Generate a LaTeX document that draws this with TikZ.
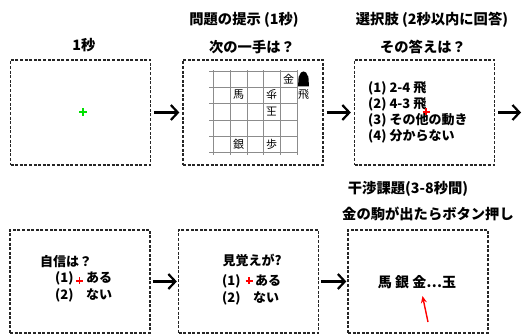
\documentclass[tikz,border=0pt]{standalone}
\usepackage{fontspec}
\setmainfont{Noto Sans CJK JP}
\usetikzlibrary{arrows.meta}
\definecolor{fixgreen}{RGB}{0,225,0}
\tikzset{
  box/.style={draw=black!85, line width=1.3pt, dash pattern=on 3pt off 1.6pt, minimum width=140pt, minimum height=105pt, inner sep=0pt},
  title/.style={font=\fontsize{14.3}{16}\selectfont\bfseries, inner sep=0pt},
  body/.style={font=\fontsize{13}{15}\selectfont\bfseries, inner sep=0pt},
  piece/.style={font=\fontsize{11}{12}\selectfont, inner sep=0pt},
  flow/.style={line width=2.2pt, -{Straight Barb[length=7pt,width=15pt,line width=2.2pt]}},
  fix/.style={line width=1.2pt},
  gridl/.style={draw=black!45, line width=0.9pt}
}
\begin{document}
\begin{tikzpicture}[x=1pt,y=-1pt]
\useasboundingbox (0,0) rectangle (524,336);
% boxes
\node[box] (b1) at (80.5,112.5) {};
\node[box] (b2) at (253,112.5) {};
\node[box] (b3) at (424.5,112.5) {};
\node[box, minimum height=103pt] (b4) at (80,281.5) {};
\node[box, minimum height=103pt] (b5) at (248.5,281.5) {};
\node[box, minimum height=103pt] (b6) at (418,281.5) {};
\coordinate (e3) at (521,112.5);
% arrows
\draw[flow, shorten <=3pt, shorten >=3pt] (b1.east) -- (b2.west);
\draw[flow, shorten <=3pt, shorten >=3pt] (b2.east) -- (b3.west);
\draw[flow, shorten <=3pt] (b3.east) -- (e3);
\draw[flow, shorten <=2pt, shorten >=1pt] (b4.east) -- (b5.west);
\draw[flow, shorten <=2pt, shorten >=1pt] (b5.east) -- (b6.west);
% titles
\node[title] (t1) at (84,45) {1秒};
\node[title] (t2) at (244,20) {問題の提示 (1秒)};
\node[title] (t2b) at (252,47) {次の一手は？};
\node[title] (t3) at (432,20) {選択肢 (2秒以内に回答)};
\node[title] (t3b) at (423,47) {その答えは？};
\node[title] (t6) at (408,189) {干渉課題(3-8秒間)};
\node[title] (t6b) at (428,214) {金の駒が出たらボタン押し};
% box1 fixation
\draw[fix, fixgreen] (79,112) -- (87,112) (83,108) -- (83,116);
% board
\foreach \x in {213,230,247,263.5,280,297} \draw[gridl] (\x,70.5) -- (\x,155.5);
\foreach \y in {71,87,103.5,120,136.5,152.5} \draw[gridl] (209,\y) -- (297,\y);
\node[piece, fill=white, inner sep=0.5pt] (p1) at (288.5,79) {金};
\node[piece] (p2) at (238.5,95) {馬};
\node[piece, rotate=180] (p3) at (271.5,95) {歩};
\node[piece, rotate=180] (p4) at (271.5,111.5) {玉};
\node[piece] (p5) at (238.5,144.5) {銀};
\node[piece] (p6) at (271.5,144) {歩};
\fill (298,86.5) -- (298.6,77) -- (301,72.5) -- (303.5,71.5) -- (306,72.5) -- (308.4,77) -- (309,86.5) -- cycle;
\node[piece] (p7) at (303.5,94.5) {飛};
% box3 list
\node[body, anchor=west] (l1) at (368,88.5) {(1) 2-4 飛};
\node[body, anchor=west] (l2) at (368,104) {(2) 4-3 飛};
\node[body, anchor=west] (l3) at (368,120) {(3) その他の動き};
\node[body, anchor=west] (l4) at (368,136) {(4) 分からない};
\draw[fix, red] (422.5,112) -- (429.5,112) (426,108.5) -- (426,115.5);
% box4
\node[body, anchor=west] (c0) at (40,261.5) {自信は？};
\node[body, anchor=west] (c1) at (55,278) {(1)};
\node[body, anchor=west] (c1b) at (86,278) {ある};
\node[body, anchor=west] (c2) at (55,295) {(2)};
\node[body, anchor=west] (c2b) at (86,295) {ない};
\draw[fix, red] (76,281) -- (83,281) (79.5,277.5) -- (79.5,284.5);
% box5
\node[body] (m0) at (252,260) {見覚えが?};
\node[body, anchor=west] (m1) at (222,281) {(1)};
\node[body, anchor=west] (m1b) at (255,281) {ある};
\node[body, anchor=west] (m2) at (222,298) {(2)};
\node[body, anchor=west] (m2b) at (253,298) {ない};
\draw[fix, red] (245.5,281) -- (252.5,281) (249,277.5) -- (249,284.5);
% box6
\node[body, font=\fontsize{14}{15}\selectfont\bfseries] (s0) at (417,282) {馬 銀 金…玉};
\coordinate (ra) at (428,322);
\coordinate (rb) at (422.5,296);
\draw[red, line width=1.4pt, -{Stealth[length=7pt,width=6pt]}] (ra) -- (rb);
\end{tikzpicture}
\end{document}
